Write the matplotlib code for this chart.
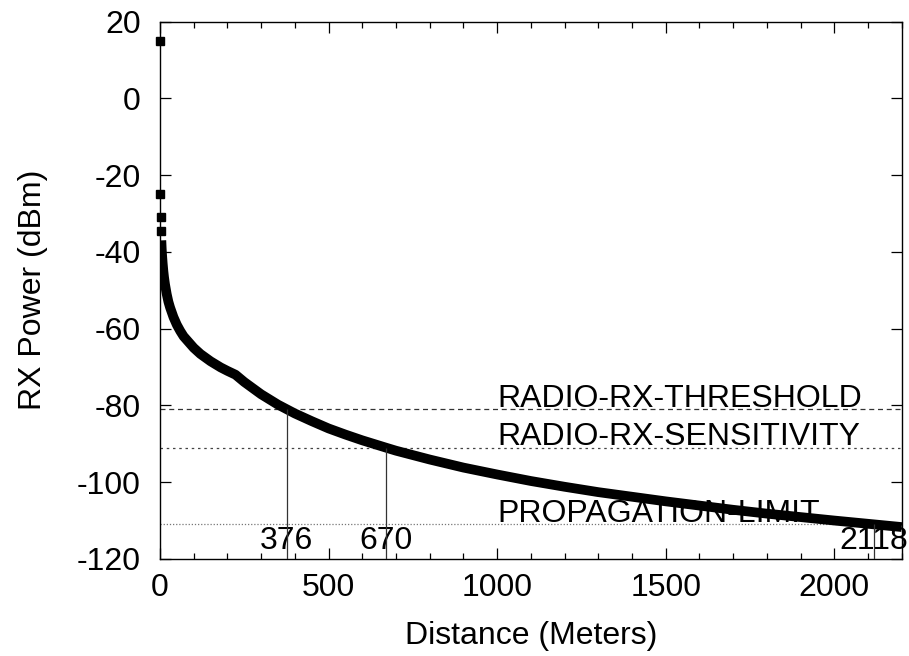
import matplotlib
matplotlib.use("Agg")
import matplotlib.pyplot as plt
from matplotlib.ticker import MultipleLocator

plt.rcParams["font.family"] = ["Liberation Sans", "DejaVu Sans"]
plt.rcParams["axes.unicode_minus"] = False

# received power versus distance from the transmitter
distance_m = [0, 1, 2, 3, 4, 5, 6, 8, 10, 12, 15, 20, 25, 30, 40, 50, 60, 70,
              80, 100, 120, 150, 180, 200, 224, 250, 300, 350, 376, 400, 450,
              500, 550, 600, 670, 700, 800, 900, 1000, 1100, 1200, 1300, 1400,
              1500, 1600, 1700, 1800, 1900, 2000, 2118, 2200]
rx_dbm = [15, -25, -31, -34.5, -37, -39, -40.6, -43, -45, -46.6, -48.5, -51,
          -53, -54.5, -57, -59, -60.6, -62, -63, -65, -66.6, -68.5, -70.1,
          -71, -72, -73.9, -77.1, -79.8, -81, -82.1, -84.1, -86, -87.6,
          -89.1, -91, -91.8, -94.1, -96.2, -98, -99.7, -101.2, -102.6,
          -103.8, -105, -106.1, -107.2, -108.2, -109.1, -110, -111, -111.7]

# radio thresholds (dBm) and the distances where the curve crosses them
limit_names = ["RADIO-RX-THRESHOLD", "RADIO-RX-SENSITIVITY", "PROPAGATION-LIMIT"]
limit_dbm = [-81, -91, -111]
limit_range = [376, 670, 2118]

line_styles = [(0, (4, 3)), (0, (2, 3)), (0, (1, 1.5))]
line_colors = ["#333333", "#444444", "#777777"]

FS = 23

fig = plt.figure(figsize=(9.09, 6.56), dpi=100)
ax = fig.add_axes([0.176, 0.148, 0.816, 0.819])

# isolated samples close to the antenna, then the continuous trace
ax.plot(distance_m[:4], rx_dbm[:4], "s", color="black", ms=6, zorder=4,
        clip_on=False)
ax.plot(distance_m[4:], rx_dbm[4:], "-", color="black", lw=7,
        solid_capstyle="butt", zorder=4)

for name, level, dist, ls, col in zip(limit_names, limit_dbm, limit_range,
                                      line_styles, line_colors):
    ax.axhline(level, color=col, lw=0.9, linestyle=ls, zorder=2)
    ax.text(1000, level + 0.6, name, fontsize=FS, va="baseline", ha="left",
            zorder=3)
    ax.vlines(dist, -120, level, color="#333333", lw=0.9, zorder=5)
    ax.text(dist, -117.3, str(dist), fontsize=FS, va="baseline", ha="center",
            zorder=3, clip_on=False)

ax.set_xlim(0, 2200)
ax.set_ylim(-120, 20)
ax.xaxis.set_major_locator(MultipleLocator(500))
ax.xaxis.set_minor_locator(MultipleLocator(100))
ax.yaxis.set_major_locator(MultipleLocator(20))

ax.tick_params(which="both", direction="in", top=True, right=True,
               labelsize=FS, width=0.9)
ax.tick_params(axis="x", which="major", length=8, pad=10)
ax.tick_params(axis="x", which="minor", length=4)
ax.tick_params(axis="y", which="major", length=8, pad=14)
for sp in ax.spines.values():
    sp.set_linewidth(1.0)

ax.set_xlabel("Distance (Meters)", fontsize=FS, va="center")
ax.set_ylabel("RX Power (dBm)", fontsize=FS, va="center")
ax.xaxis.set_label_coords(0.5, -0.143)
ax.yaxis.set_label_coords(-0.171, 0.5)

fig.savefig("out.png", dpi=100)
